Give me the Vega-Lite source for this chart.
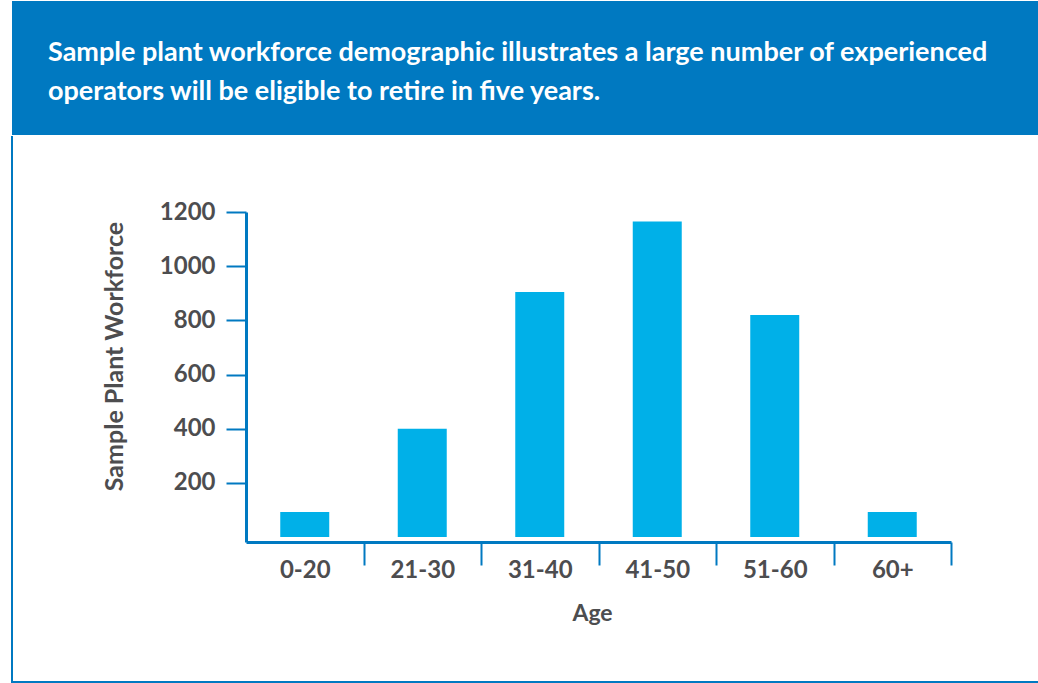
{
  "$schema": "https://vega.github.io/schema/vega-lite/v6.json",
  "padding": {"left": 11, "top": 1, "right": 0, "bottom": 0},
  "background": "white",
  "spacing": 0,
  "config": {
    "font": "Lato",
    "concat": {"spacing": 0}
  },
  "vconcat": [
    {
      "width": 1027,
      "height": 134,
      "view": {"fill": "#0079C1", "stroke": null},
      "title": {
        "text": [
          "Sample plant workforce demographic illustrates a large number of experienced",
          "operators will be eligible to retire in five years."
        ],
        "frame": "group",
        "anchor": "start",
        "orient": "top",
        "offset": -105,
        "dx": 36,
        "baseline": "top",
        "lineHeight": 39,
        "color": "white",
        "font": "Lato",
        "fontSize": 27,
        "fontWeight": "bold"
      },
      "data": {"values": [{"band": "header"}]},
      "mark": {"type": "rect", "color": "#0079C1"},
      "encoding": {}
    },
    {
      "width": 1027,
      "height": 546,
      "view": {
        "fill": "white",
        "stroke": "#0079C1",
        "strokeWidth": 2,
        "strokeDash": [0, 1573, 1573, 0]
      },
      "data": {
        "values": [
          {"age": "0-20", "workforce": 93},
          {"age": "21-30", "workforce": 400},
          {"age": "31-40", "workforce": 905},
          {"age": "41-50", "workforce": 1165},
          {"age": "51-60", "workforce": 820},
          {"age": "60+", "workforce": 93}
        ]
      },
      "mark": {"type": "bar", "color": "#00B0E8", "width": {"band": 0.417}},
      "encoding": {
        "x": {
          "field": "age",
          "type": "nominal",
          "sort": null,
          "scale": {"range": [234, 939], "paddingInner": 0, "paddingOuter": 0},
          "axis": {
            "orient": "bottom",
            "offset": -140,
            "title": "Age",
            "titleX": 580,
            "titleY": 78,
            "titleBaseline": "alphabetic",
            "titleFont": "Lato",
            "titleFontSize": 23,
            "titleFontWeight": "bold",
            "titleColor": "#4d4d4f",
            "labelAngle": 0,
            "labelFont": "Lato",
            "labelFontSize": 24,
            "labelFontWeight": "bold",
            "labelColor": "#4d4d4f",
            "labelBaseline": "alphabetic",
            "labelPadding": 12,
            "tickBand": "extent",
            "tickSize": 23,
            "tickWidth": 2,
            "tickColor": "#0079C1",
            "tickOpacity": {"condition": {"test": "datum.extra", "value": 0}, "value": 1},
            "domainColor": "#0079C1",
            "domainWidth": 3,
            "grid": false
          }
        },
        "y": {
          "field": "workforce",
          "type": "quantitative",
          "scale": {"domain": [-18, 1200], "range": [406, 76], "nice": false, "zero": false},
          "axis": {
            "orient": "left",
            "offset": -234,
            "values": [200, 400, 600, 800, 1000, 1200],
            "format": "d",
            "title": "Sample Plant Workforce",
            "titleX": -132,
            "titleY": 220,
            "titleAngle": 270,
            "titleBaseline": "middle",
            "titleAlign": "center",
            "titleFont": "Lato",
            "titleFontSize": 25,
            "titleFontWeight": "bold",
            "titleColor": "#4d4d4f",
            "labelFont": "Lato",
            "labelFontSize": 24,
            "labelFontWeight": "bold",
            "labelColor": "#4d4d4f",
            "labelPadding": 11,
            "tickSize": 20,
            "tickWidth": 2,
            "tickColor": "#0079C1",
            "domainColor": "#0079C1",
            "domainWidth": 3,
            "grid": false
          }
        }
      }
    }
  ]
}
